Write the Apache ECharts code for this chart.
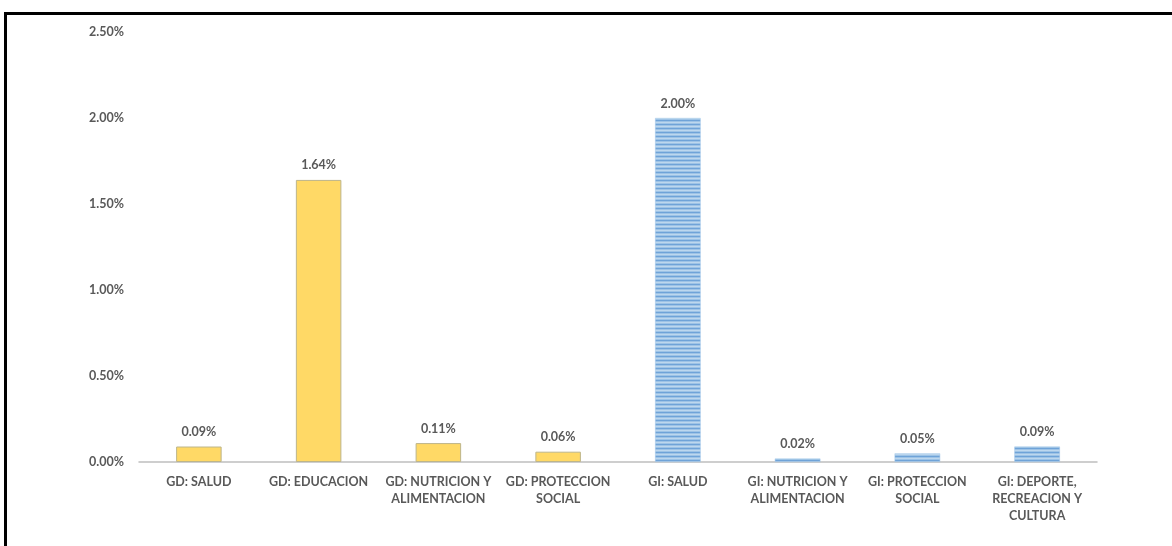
<!DOCTYPE html>
<html>
<head>
<meta charset="utf-8">
<script src="https://cdn.jsdelivr.net/npm/echarts@6/dist/echarts.min.js"></script>
<style>
html,body{margin:0;padding:0;background:#fff;}
#frame{position:absolute;left:4px;top:12px;width:1200px;height:600px;border-top:3px solid #000;border-left:3px solid #000;box-sizing:border-box;}
#chart{position:absolute;left:0;top:0;width:1172px;height:546px;}
</style>
</head>
<body>
<div id="frame"></div>
<div id="chart"></div>
<script>
const categories = ['GD: SALUD','GD: EDUCACION','GD: NUTRICION Y\nALIMENTACION','GD: PROTECCION\nSOCIAL','GI: SALUD','GI: NUTRICION Y\nALIMENTACION','GI: PROTECCION\nSOCIAL','GI: DEPORTE,\nRECREACION Y\nCULTURA'];
const values = [0.09, 1.64, 0.11, 0.06, 2.00, 0.02, 0.05, 0.09];
const groups = ['GD','GD','GD','GD','GI','GI','GI','GI'];
const yTicks = [0, 0.5, 1.0, 1.5, 2.0, 2.5];

const pc = document.createElement('canvas');
pc.width = 4; pc.height = 4;
const ctx = pc.getContext('2d');
ctx.fillStyle = '#BDD7EE'; ctx.fillRect(0,0,4,4);
ctx.fillStyle = '#6FA3D8'; ctx.fillRect(0,0,4,1);
ctx.fillStyle = '#9DC3E6'; ctx.fillRect(0,1,4,1);
ctx.fillStyle = '#9DC3E6'; ctx.fillRect(0,3,4,1);

const font = 'Lato, "Open Sans", sans-serif';
const fs = 12.5;
const chart = echarts.init(document.getElementById('chart'), null, {renderer:'canvas'});
chart.setOption({
  animation:false,
  grid:{left:139, right:75, top:32, bottom:84},
  xAxis:{
    type:'category', data:categories,
    axisLine:{lineStyle:{color:'#BFBFBF', width:1.5}},
    axisTick:{show:false},
    axisLabel:{interval:0, color:'#595959', fontFamily:font, fontWeight:'bold', fontSize:fs, lineHeight:17, margin:11}
  },
  yAxis:{
    type:'value', min:yTicks[0], max:yTicks[yTicks.length-1], interval:0.5,
    axisLine:{show:false}, axisTick:{show:false}, splitLine:{show:false},
    axisLabel:{color:'#595959', fontFamily:font, fontWeight:'bold', fontSize:fs, margin:15,
      formatter:v=>v.toFixed(2)+'%'}
  },
  series:[{
    type:'bar',
    barWidth:'38%',
    data:values.map((v,i)=>({value:v, itemStyle: groups[i]==='GD'
      ? {color:'#FFD966', borderColor:'#BDB58A', borderWidth:1}
      : {color:{image:pc, repeat:'repeat'}, borderColor:'#9DC3E6', borderWidth:0.5}})),
    label:{show:true, position:'top', distance:8, color:'#595959', fontFamily:font, fontWeight:'bold', fontSize:fs,
      formatter:p=>p.value.toFixed(2)+'%'}
  }]
});
</script>
</body>
</html>
